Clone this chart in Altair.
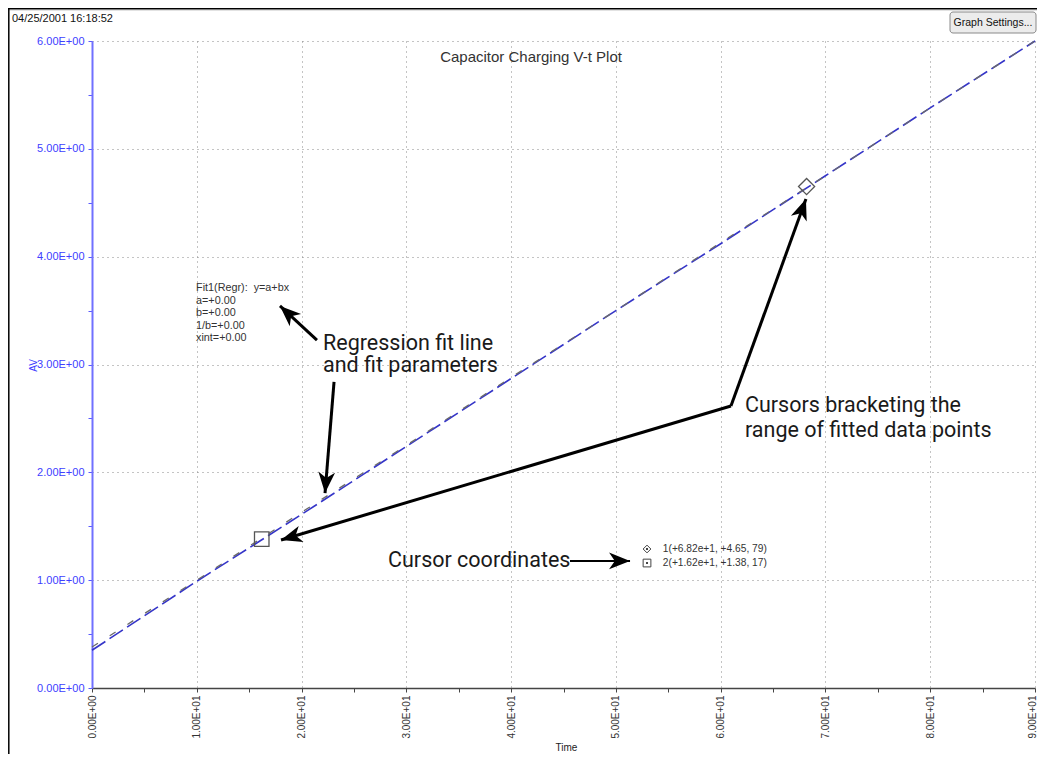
import math
import altair as alt
import pandas as pd

# ---------------- data ----------------
time_s = [0, 10, 20, 30, 40, 50, 60, 70, 80, 90]
av_data = [0.35, 0.99, 1.61, 2.24, 2.87, 3.50, 4.12, 4.75, 5.38, 6.00]
av_fit = [0.38, 1.00, 1.63, 2.25, 2.88, 3.50, 4.13, 4.75, 5.38, 6.00]

cursor_id = ["1", "2"]
cursor_time = [68.2, 16.2]
cursor_av = [4.65, 1.38]
cursor_shape = ["diamond", "square"]
cursor_text = ["1(+6.82e+1, +4.65, 79)", "2(+1.62e+1, +1.38, 17)"]

fit_lines = ["Fit1(Regr):\u00a0\u00a0y=a+bx", "a=+0.00", "b=+0.00", "1/b=+0.00", "xint=+0.00"]

x_ticks = [0, 5, 10, 15, 20, 25, 30, 35, 40, 45, 50, 55, 60, 65, 70, 75, 80, 85, 90]
y_ticks = [0, 0.5, 1, 1.5, 2, 2.5, 3, 3.5, 4, 4.5, 5, 5.5, 6]

# annotation texts (data coordinates)
note_text = ["Regression fit line", "and fit parameters",
             "Cursors bracketing the", "range of fitted data points"]
note_x = [22.05, 22.05, 62.32, 62.32]
note_y = [3.13, 2.93, 2.56, 2.328]

# arrows: start -> tip (data coordinates)
arr_x1 = [21.47, 23.10, 60.98, 60.98, 45.62]
arr_y1 = [3.227, 2.838, 2.615, 2.615, 1.178]
arr_x2 = [17.94, 22.24, 18.04, 68.14, 51.35]
arr_y2 = [3.543, 1.808, 1.373, 4.535, 1.178]
arr_w = [3, 3, 3, 3, 2]

# ---------------- layout ----------------
W, H = 943, 647
PX_X = W / 90.0
PX_Y = H / 6.0

xs = alt.Scale(domain=[0, 90], nice=False, zero=False)
ys = alt.Scale(domain=[0, 6], nice=False, zero=False)

BLUE = "#4040ff"
SANS = "Liberation Sans"

line_df = pd.DataFrame({"t": time_s + time_s,
                        "v": av_data + av_fit,
                        "s": ["AV"] * len(time_s) + ["Fit1"] * len(time_s)})

x_axis = alt.Axis(values=x_ticks, title="Time", titleFont=SANS, titleFontSize=10,
                  titleFontWeight="normal", titleColor="#222",
                  titleX=474, titleY=59, titleBaseline="middle",
                  labelExpr="datum.value % 10 === 0 ? (datum.value === 0 ? '0.00E+00' : format(datum.value/10, '.2f') + 'E+01') : ''",
                  labelAngle=270, labelFont=SANS, labelFontSize=10, labelColor="#333",
                  labelOverlap=False, labelFlush=False, labelPadding=3,
                  labelOffset={"condition": {"test": "datum.value === 90", "value": -2.5}, "value": 0},
                  domainColor="#444", domainWidth=1.5, tickColor="#444", tickSize=4,
                  grid=True, gridColor="#888", gridDash=[1, 4], gridWidth=1,
                  gridOpacity={"condition": {"test": "datum.value % 10 === 0", "value": 1}, "value": 0})

y_axis = alt.Axis(values=y_ticks, title="AV", titleFont=SANS, titleFontSize=10,
                  titleFontWeight="normal", titleColor=BLUE,
                  titleX=-59, titleY=324, titleBaseline="middle",
                  labelExpr="datum.value % 1 === 0 ? format(datum.value, '.2f') + 'E+00' : ''",
                  labelFont=SANS, labelFontSize=11, labelColor=BLUE,
                  labelOverlap=False, labelFlush=False, labelPadding=4,
                  domainColor="#7070ff", domainWidth=2, tickColor="#5a5aff", tickSize=4,
                  grid=True, gridColor="#888", gridDash=[1, 4], gridWidth=1,
                  gridOpacity={"condition": {"test": "datum.value % 1 === 0", "value": 1}, "value": 0})

base_axes = alt.Chart(line_df).mark_line(opacity=0).encode(
    x=alt.X("t:Q", scale=xs, axis=x_axis),
    y=alt.Y("v:Q", scale=ys, axis=y_axis),
)

data_line = alt.Chart(line_df[line_df.s == "AV"]).mark_line(
    color="#3535c8", strokeWidth=1.6, strokeDash=[16, 5]
).encode(x=alt.X("t:Q", scale=xs), y=alt.Y("v:Q", scale=ys))

fit_line = alt.Chart(line_df[line_df.s == "Fit1"]).mark_line(
    color="#6a6a6a", strokeWidth=1.3, strokeDash=[7, 14]
).encode(x=alt.X("t:Q", scale=xs), y=alt.Y("v:Q", scale=ys))

cur_df = pd.DataFrame({"id": cursor_id, "t": cursor_time, "v": cursor_av,
                       "shape": cursor_shape, "txt": cursor_text})

cursor_sq = alt.Chart(cur_df[cur_df["shape"] == "square"]).mark_point(
    shape="square", size=210, filled=False, color="#555", strokeWidth=1.3, opacity=1
).encode(x=alt.X("t:Q", scale=xs), y=alt.Y("v:Q", scale=ys))

cursor_dm = alt.Chart(cur_df[cur_df["shape"] == "diamond"]).mark_point(
    shape="diamond", size=260, filled=False, color="#555", strokeWidth=1.3, opacity=1
).encode(x=alt.X("t:Q", scale=xs), y=alt.Y("v:Q", scale=ys))

# cursor legend (symbol + text)
leg_df = pd.DataFrame({"shape": cursor_shape, "txt": cursor_text,
                       "lx": [52.97, 52.97], "tx": [54.48, 54.48],
                       "ly": [1.289, 1.159]})
leg_sym = alt.Chart(leg_df).mark_point(filled=False, color="#444", strokeWidth=1, opacity=1, size=60).encode(
    x=alt.X("lx:Q", scale=xs), y=alt.Y("ly:Q", scale=ys),
    shape=alt.Shape("shape:N", scale=alt.Scale(domain=["diamond", "square"], range=["diamond", "square"]), legend=None))
leg_dot = alt.Chart(leg_df).mark_point(filled=True, color="#444", size=4, shape="square", opacity=1).encode(
    x=alt.X("lx:Q", scale=xs), y=alt.Y("ly:Q", scale=ys))
leg_txt = alt.Chart(leg_df).mark_text(align="left", baseline="middle", font=SANS, fontSize=10.2, color="#333").encode(
    x=alt.X("tx:Q", scale=xs), y=alt.Y("ly:Q", scale=ys), text="txt:N")

# fit parameter block
fit_df = pd.DataFrame({"txt": fit_lines,
                       "x": [9.93] * len(fit_lines),
                       "y": [3.705 - i * 0.1145 for i in range(len(fit_lines))]})
fit_txt = alt.Chart(fit_df).mark_text(align="left", baseline="middle", font=SANS, fontSize=10.8, color="#333").encode(
    x=alt.X("x:Q", scale=xs), y=alt.Y("y:Q", scale=ys), text="txt:N")

# chart title in plot area
title_df = pd.DataFrame({"txt": ["Capacitor Charging V-t Plot"], "x": [41.9], "y": [5.85]})
title_txt = alt.Chart(title_df).mark_text(align="center", baseline="middle", font=SANS, fontSize=15, color="#333").encode(
    x=alt.X("x:Q", scale=xs), y=alt.Y("y:Q", scale=ys), text="txt:N")

# big annotations
note_df = pd.DataFrame({"txt": note_text, "x": note_x, "y": note_y})
note_txt = alt.Chart(note_df).mark_text(align="left", baseline="alphabetic", font="Roboto", fontSize=21.5, color="#1a1a1a").encode(
    x=alt.X("x:Q", scale=xs), y=alt.Y("y:Q", scale=ys), text="txt:N")

cc_df = pd.DataFrame({"txt": ["Cursor coordinates"], "x": [28.25], "y": [1.178]})
cc_txt = alt.Chart(cc_df).mark_text(align="left", baseline="middle", font="Roboto", fontSize=21.5, color="#1a1a1a").encode(
    x=alt.X("x:Q", scale=xs), y=alt.Y("y:Q", scale=ys), text="txt:N")

# arrows
angles = []
for a, b, c, d in zip(arr_x1, arr_y1, arr_x2, arr_y2):
    dx = (c - a) * PX_X
    dy = -(d - b) * PX_Y
    angles.append(math.degrees(math.atan2(dy, dx)) % 360)
arr_df = pd.DataFrame({"x1": arr_x1, "y1": arr_y1, "x2": arr_x2, "y2": arr_y2,
                       "w": arr_w, "ang": angles})
shafts = alt.Chart(arr_df).mark_rule(color="black").encode(
    x=alt.X("x1:Q", scale=xs), y=alt.Y("y1:Q", scale=ys),
    x2="x2:Q", y2="y2:Q",
    strokeWidth=alt.StrokeWidth("w:Q", scale=None, legend=None))
heads = alt.Chart(arr_df).mark_point(
    shape="M0,0 L-2,-0.8 L-1.45,0 L-2,0.8 Z", filled=True, color="black", size=440, opacity=1
).encode(x=alt.X("x2:Q", scale=xs), y=alt.Y("y2:Q", scale=ys),
         angle=alt.Angle("ang:Q", scale=None))

# window furniture (timestamp, button, frame)
one = pd.DataFrame({"k": [0]})
stamp = alt.Chart(one).mark_text(align="left", baseline="middle", font=SANS, fontSize=11, color="#111").encode(
    x=alt.value(-80), y=alt.value(-22.5), text=alt.value("04/25/2001 16:18:52"))
button = alt.Chart(one).mark_rect(fill="#ececec", stroke="#8a8a8a", strokeWidth=1, cornerRadius=3).encode(
    x=alt.value(858), x2=alt.value(944), y=alt.value(-29), y2=alt.value(-8))
button_txt = alt.Chart(one).mark_text(align="center", baseline="middle", font=SANS, fontSize=10.5, color="#111").encode(
    x=alt.value(901), y=alt.value(-18.5), text=alt.value("Graph Settings..."))
frame_left = alt.Chart(one).mark_rule(color="black", strokeWidth=1.5).encode(
    x=alt.value(-83.2), y=alt.value(-33), y2=alt.value(713))
frame_top = alt.Chart(one).mark_rule(color="black", strokeWidth=1.5).encode(
    x=alt.value(-84), x2=alt.value(946), y=alt.value(-32.2))
frame_top2 = alt.Chart(one).mark_rule(color="#e2e2e2", strokeWidth=1).encode(
    x=alt.value(-83), x2=alt.value(946), y=alt.value(-30.5))

chart = alt.layer(
    base_axes, frame_top2, frame_left, frame_top, stamp, button, button_txt,
    title_txt, fit_txt, data_line, fit_line, cursor_sq, cursor_dm,
    leg_sym, leg_dot, leg_txt, note_txt, cc_txt, shafts, heads,
).properties(
    width=W, height=H,
    autosize=alt.AutoSizeParams(type="none"),
    padding={"left": 84, "top": 33, "right": 2, "bottom": 66},
    background="white",
).configure_view(stroke=None)

chart.save("out.html", embed_options={"renderer": "svg", "actions": False})
